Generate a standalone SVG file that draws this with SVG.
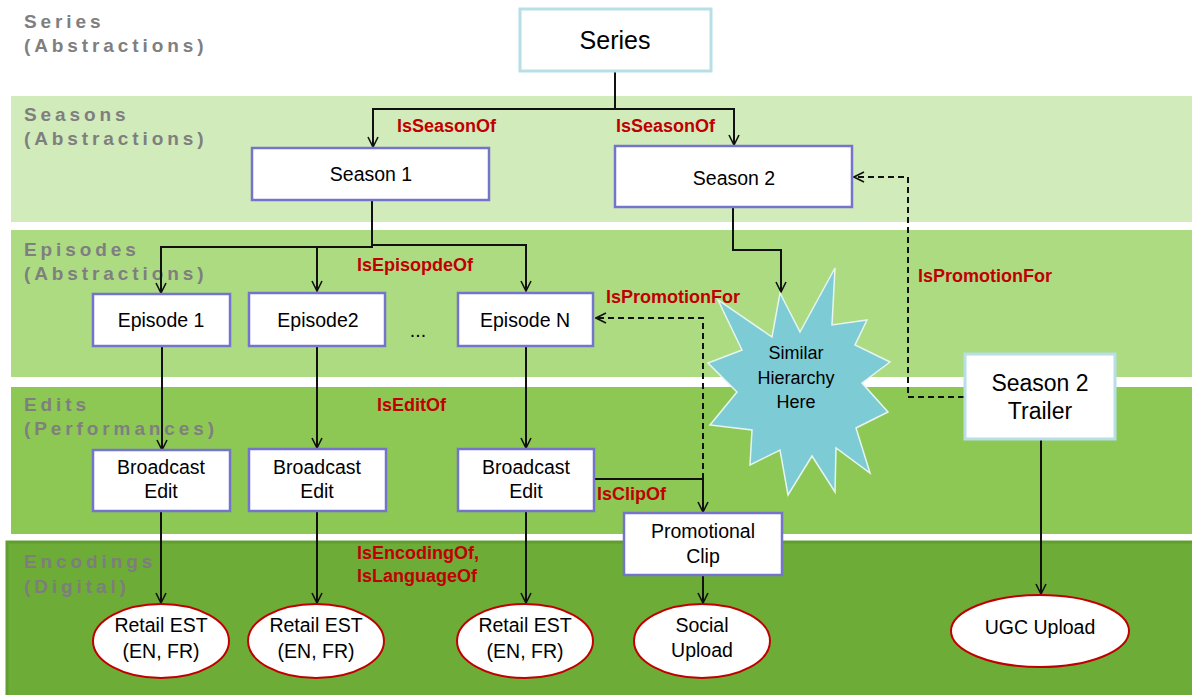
<svg xmlns="http://www.w3.org/2000/svg" width="1192" height="695" viewBox="0 0 1192 695">
<defs>
<style>
.band-label{font-family:"Liberation Sans",Arial,sans-serif;font-weight:bold;font-size:19px;fill:#7f7f7f;letter-spacing:3.9px}
.box{fill:#fff;stroke:#7474cc;stroke-width:2.5}
.boxl{fill:#fff;stroke:#b8dfe5;stroke-width:3}
.ell{fill:#fff;stroke:#c00000;stroke-width:2}
.t{font-family:"Liberation Sans",Arial,sans-serif;font-size:19.5px;fill:#000;text-anchor:middle}
.rel{font-family:"Liberation Sans",Arial,sans-serif;font-weight:bold;font-size:18px;fill:#c00000}
.ln{fill:none;stroke:#111;stroke-width:2}
.dash{fill:none;stroke:#111;stroke-width:2;stroke-dasharray:6 4}
</style>
<marker id="arr" viewBox="0 0 12 12" refX="11" refY="6" markerWidth="12" markerHeight="12" markerUnits="userSpaceOnUse" orient="auto">
<path d="M1,1 L11,6 L1,11" fill="none" stroke="#111" stroke-width="1.6"/>
</marker>
</defs>
<rect width="1192" height="695" fill="#fff"/>
<g id="bands">
<rect x="11" y="96" width="1181" height="126" fill="#d2ebba"/>
<rect x="11" y="230" width="1181" height="147" fill="#addb82"/>
<rect x="11" y="387" width="1181" height="147" fill="#8dc854"/>
<rect x="7" y="541" width="1185" height="154" fill="#6dac37"/>
<path d="M7,695 V542 H1192" fill="none" stroke="#5f9e2f" stroke-width="3"/>
<text class="band-label" x="24" y="28">Series</text>
<text class="band-label" x="24" y="52">(Abstractions)</text>
<text class="band-label" x="24" y="121">Seasons</text>
<text class="band-label" x="24" y="145">(Abstractions)</text>
<text class="band-label" x="24" y="256">Episodes</text>
<text class="band-label" x="24" y="280">(Abstractions)</text>
<text class="band-label" x="24" y="411">Edits</text>
<text class="band-label" x="24" y="435">(Performances)</text>
<text class="band-label" x="24" y="568" style="fill:#7d7d7d">Encodings</text>
<text class="band-label" x="24" y="593" style="fill:#7d7d7d">(Digital)</text>
</g>
<g id="connectors">
<path class="ln" d="M615,71 V109 H373 V147" marker-end="url(#arr)"/>
<path class="ln" d="M615,109 H734 V145" marker-end="url(#arr)"/>
<path class="ln" d="M372,201 V247 H161 V293" marker-end="url(#arr)"/>
<path class="ln" d="M372,247 H317 V291" marker-end="url(#arr)"/>
<path class="ln" d="M372,245 H526 V291" marker-end="url(#arr)"/>
<path class="ln" d="M733,207 V250 H781 V292" marker-end="url(#arr)"/>
<path class="ln" d="M162,347 V450" marker-end="url(#arr)"/>
<path class="ln" d="M317,347 V448" marker-end="url(#arr)"/>
<path class="ln" d="M526,347 V448" marker-end="url(#arr)"/>
<path class="ln" d="M161,512 V603" marker-end="url(#arr)"/>
<path class="ln" d="M317,512 V603" marker-end="url(#arr)"/>
<path class="ln" d="M526,512 V603" marker-end="url(#arr)"/>
<path class="ln" d="M595,479 H703 V512" marker-end="url(#arr)"/>
<path class="ln" d="M703,576 V603" marker-end="url(#arr)"/>
<path class="ln" d="M1041,440 V594" marker-end="url(#arr)"/>
<path class="dash" d="M703,479 V318 H596" marker-end="url(#arr)"/>
<path class="dash" d="M964,397 H908 V177 H854" marker-end="url(#arr)"/>
<text class="rel" x="397" y="132">IsSeasonOf</text>
<text class="rel" x="616" y="132">IsSeasonOf</text>
<text class="rel" x="357" y="271">IsEpisopdeOf</text>
<text class="rel" x="606" y="303">IsPromotionFor</text>
<text class="rel" x="918" y="282">IsPromotionFor</text>
<text class="rel" x="377" y="411">IsEditOf</text>
<text class="rel" x="357" y="559">IsEncodingOf,</text>
<text class="rel" x="357" y="582">IsLanguageOf</text>
<text class="rel" x="597" y="500">IsClipOf</text>
</g>
<g id="series">
<rect class="boxl" x="520" y="9" width="191" height="62"/>
<text class="t" x="615" y="49" style="font-size:25px">Series</text>
</g>
<g id="season1">
<rect class="box" x="252" y="148" width="237" height="52"/>
<text class="t" x="371" y="181">Season 1</text>
</g>
<g id="season2">
<rect class="box" x="615" y="146" width="237" height="61"/>
<text class="t" x="734" y="185">Season 2</text>
</g>
<g id="episode1">
<rect class="box" x="93" y="294" width="137" height="52"/>
<text class="t" x="161" y="327">Episode 1</text>
</g>
<g id="episode2">
<rect class="box" x="249" y="293" width="136" height="53"/>
<text class="t" x="318" y="327">Episode2</text>
</g>
<text class="t" x="418" y="337">...</text>
<g id="episodeN">
<rect class="box" x="458" y="293" width="135" height="53"/>
<text class="t" x="525" y="327">Episode N</text>
</g>
<g id="edit1">
<rect class="box" x="93" y="450" width="137" height="61"/>
<text class="t" x="161" y="474">Broadcast</text>
<text class="t" x="161" y="498">Edit</text>
</g>
<g id="edit2">
<rect class="box" x="249" y="449" width="137" height="62"/>
<text class="t" x="317" y="474">Broadcast</text>
<text class="t" x="317" y="498">Edit</text>
</g>
<g id="edit3">
<rect class="box" x="458" y="449" width="136" height="62"/>
<text class="t" x="526" y="474">Broadcast</text>
<text class="t" x="526" y="498">Edit</text>
</g>
<g id="promoclip">
<rect class="box" x="624" y="513" width="158" height="62"/>
<text class="t" x="703" y="538">Promotional</text>
<text class="t" x="703" y="563">Clip</text>
</g>
<g id="trailer">
<rect class="boxl" x="965" y="354" width="150" height="85"/>
<text class="t" x="1040" y="391" style="font-size:23px">Season 2</text>
<text class="t" x="1040" y="419" style="font-size:23px">Trailer</text>
</g>
<g id="star">
<polygon points="780,293 800,332 835,268 832,325 867,320 855,345 890,362 862,383 888,412 856,428 870,473 836,448 835,492 812,456 788,495 780,450 750,465 752,430 710,425 737,392 708,363 742,350 718,300 772,337" fill="#7dcbd4" stroke="#e6f5f2" stroke-width="1.5"/>
<text class="t" x="796" y="359" style="font-size:18px">Similar</text>
<text class="t" x="796" y="384" style="font-size:18px">Hierarchy</text>
<text class="t" x="796" y="408" style="font-size:18px">Here</text>
</g>
<g id="retail1">
<ellipse class="ell" cx="161" cy="641" rx="68" ry="37"/>
<text class="t" x="161" y="632">Retail EST</text>
<text class="t" x="161" y="658">(EN, FR)</text>
</g>
<g id="retail2">
<ellipse class="ell" cx="316" cy="641" rx="68" ry="37"/>
<text class="t" x="316" y="632">Retail EST</text>
<text class="t" x="316" y="658">(EN, FR)</text>
</g>
<g id="retail3">
<ellipse class="ell" cx="525" cy="641" rx="68" ry="37"/>
<text class="t" x="525" y="632">Retail EST</text>
<text class="t" x="525" y="658">(EN, FR)</text>
</g>
<g id="social">
<ellipse class="ell" cx="702" cy="641" rx="68" ry="37"/>
<text class="t" x="702" y="632">Social</text>
<text class="t" x="702" y="657">Upload</text>
</g>
<g id="ugc">
<ellipse class="ell" cx="1040" cy="631" rx="89" ry="36"/>
<text class="t" x="1040" y="634">UGC Upload</text>
</g>
</svg>
